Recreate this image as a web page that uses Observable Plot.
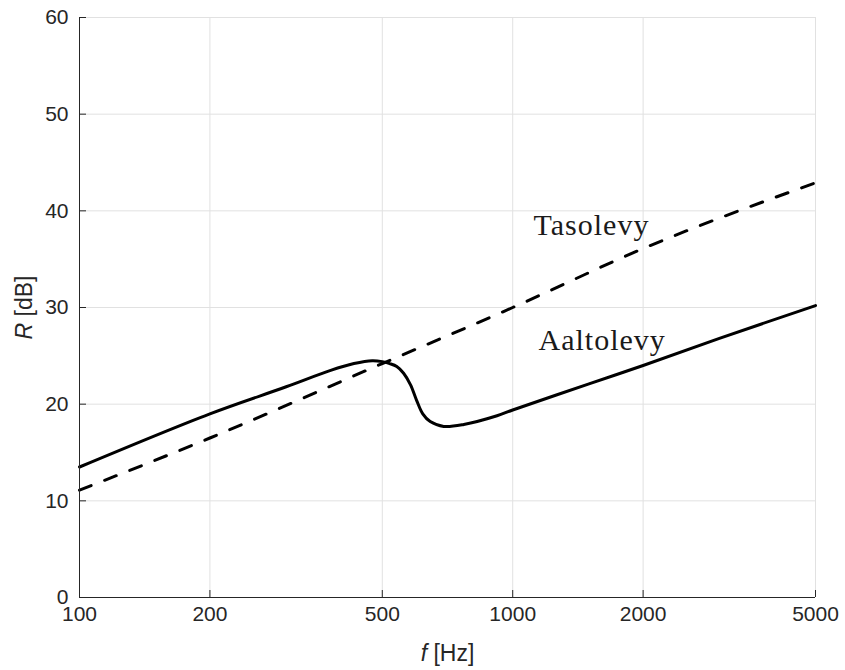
<!DOCTYPE html>
<html>
<head>
<meta charset="utf-8">
<script src="https://cdn.jsdelivr.net/npm/d3@7"></script>
<script src="https://cdn.jsdelivr.net/npm/@observablehq/plot@0.6"></script>
<style>
  html, body { margin: 0; padding: 0; background: #fff; }
</style>
</head>
<body>
<div id="chart"></div>
<script>
// Aaltolevy (solid)
const freqAalto = [100, 200, 300, 380, 430, 474, 500, 520, 540, 560, 581, 600, 620, 645, 693, 771, 920, 1000, 1500, 2000, 3000, 5000];
const rAalto    = [13.5, 19.0, 21.8, 23.5, 24.2, 24.5, 24.4, 24.2, 23.9, 23.2, 22.0, 20.4, 19.0, 18.2, 17.7, 17.9, 18.8, 19.4, 22.1, 24.0, 26.8, 30.2];
// Tasolevy (dashed)
const freqTaso = [100, 200, 500, 1000, 2000, 5000];
const rTaso    = [11.1, 16.5, 24.2, 30.0, 36.1, 42.9];
// Tick values
const xTicks = [100, 200, 500, 1000, 2000, 5000];
const yTicks = [0, 10, 20, 30, 40, 50, 60];
// Curve labels
const labelNames = ["Tasolevy", "Aaltolevy"];
const labelF = [1117, 1147];
const labelR = [38.5, 26.6];

const aalto = freqAalto.map((f, i) => ({f, r: rAalto[i]}));
const taso = freqTaso.map((f, i) => ({f, r: rTaso[i]}));
const labels = labelNames.map((name, i) => ({name, f: labelF[i], r: labelR[i]}));

const axisColor = "#262626";
const gridColor = "#e1e1e1";

const plot = Plot.plot({
  width: 845,
  height: 670,
  marginLeft: 79,
  marginRight: 30,
  marginTop: 17,
  marginBottom: 73,
  style: {fontFamily: "'Liberation Sans', Arial, sans-serif", fontSize: "21px", color: axisColor, background: "#fff"},
  x: {type: "log", domain: [100, 5000]},
  y: {domain: [0, 60]},
  marks: [
    Plot.gridX(xTicks, {stroke: gridColor, strokeOpacity: 1}),
    Plot.gridY(yTicks, {stroke: gridColor, strokeOpacity: 1}),
    Plot.line(taso, {x: "f", y: "r", stroke: "#000", strokeWidth: 3, strokeDasharray: "12.5,14.5", curve: "monotone-x"}),
    Plot.line(aalto, {x: "f", y: "r", stroke: "#000", strokeWidth: 3, curve: "catmull-rom"}),
    Plot.text(labels, {x: "f", y: "r", text: "name", textAnchor: "start", lineAnchor: "middle",
      fontFamily: "'Liberation Serif', 'Times New Roman', serif", fontSize: 30, fill: "#1a1a1a"}),
    Plot.ruleX([100], {stroke: axisColor, strokeWidth: 1}),
    Plot.ruleY([0], {stroke: axisColor, strokeWidth: 1}),
    Plot.axisX(xTicks, {anchor: "bottom", tickSize: -7, tickPadding: 16, tickFormat: d => String(d),
      label: null, stroke: axisColor, fill: axisColor, fontSize: 21}),
    Plot.axisY(yTicks, {anchor: "left", tickSize: -7, tickPadding: 18, tickFormat: d => String(d),
      label: null, stroke: axisColor, fill: axisColor, fontSize: 21}),
    Plot.text(["f [Hz]"], {frameAnchor: "bottom", dy: 56, textAnchor: "middle", lineAnchor: "middle", fontSize: 23, fill: axisColor}),
    Plot.text(["R [dB]"], {frameAnchor: "left", dx: -55, rotate: -90, textAnchor: "middle", lineAnchor: "middle", fontSize: 23, fill: axisColor})
  ]
});

d3.select(plot).selectAll("text").each(function() {
  const t = this.textContent;
  if (t === "f [Hz]" || t === "R [dB]") {
    const sel = d3.select(this);
    sel.text(null);
    sel.append("tspan").attr("font-style", "italic").text(t[0]);
    sel.append("tspan").text(t.slice(1));
  }
  if (labelNames.includes(t)) {
    d3.select(this).attr("letter-spacing", "1px");
  }
});

document.getElementById("chart").appendChild(plot);
</script>
</body>
</html>
